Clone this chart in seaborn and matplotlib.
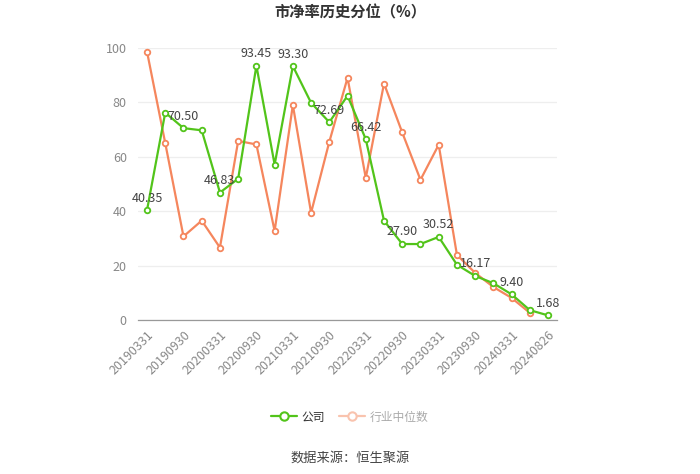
import pandas as pd
import matplotlib.pyplot as plt
import seaborn as sns
from matplotlib.lines import Line2D

dates = ['20190331', '20190630', '20190930', '20191231', '20200331', '20200630',
         '20200930', '20201231', '20210331', '20210630', '20210930', '20211231',
         '20220331', '20220630', '20220930', '20221231', '20230331', '20230630',
         '20230930', '20231231', '20240331', '20240630', '20240826']
company = [40.35, 76.2, 70.50, 69.7, 46.83, 51.9, 93.45, 57.1, 93.30, 79.8, 72.69, 82.4,
           66.42, 36.5, 27.90, 27.9, 30.52, 20.3, 16.17, 13.5, 9.40, 3.6, 1.68]
industry = [98.6, 65.0, 30.7, 36.5, 26.6, 65.8, 64.5, 32.7, 79.0, 39.4, 65.5, 89.0,
            52.2, 86.9, 68.9, 51.5, 64.4, 23.9, 17.3, 12.1, 8.1, 2.6, None]
label_idx = [0, 2, 4, 6, 8, 10, 12, 14, 16, 18, 20, 22]

green = '#52c41a'
orange = '#f5865d'

df = pd.DataFrame({'idx': range(len(dates)), 'date': dates,
                   'company': company, 'industry': industry})

sns.set_style('white')
plt.rcParams['font.family'] = ['Noto Sans CJK SC', 'DejaVu Sans']

fig = plt.figure(figsize=(7, 4.74), dpi=100)
ax = fig.add_axes([0.197, 0.325, 0.599, 0.574])

sns.lineplot(data=df, x='idx', y='industry', ax=ax, color=orange, linewidth=1.6,
             marker='o', markersize=4, markerfacecolor='white',
             markeredgecolor=orange, markeredgewidth=1.3, zorder=3)
sns.lineplot(data=df, x='idx', y='company', ax=ax, color=green, linewidth=1.6,
             marker='o', markersize=4, markerfacecolor='white',
             markeredgecolor=green, markeredgewidth=1.3, zorder=4)

for i in label_idx:
    ax.annotate(f'{company[i]:.2f}', (i, company[i]), xytext=(0, 4),
                textcoords='offset points', ha='center', va='bottom',
                fontsize=9, color='#444444', zorder=5)

ax.set_xlim(-0.5, len(dates) - 0.5)
ax.set_ylim(0, 100)
ax.set_yticks([0, 20, 40, 60, 80, 100])
ax.set_xticks(label_idx)
ax.set_xticklabels([dates[i] for i in label_idx], rotation=45, ha='right',
                   rotation_mode='anchor')
ax.tick_params(axis='x', colors='#999999', labelsize=9, length=4, width=0.8,
               direction='out', pad=2)
ax.tick_params(axis='x', labelcolor='#888888')
ax.tick_params(axis='y', labelcolor='#888888', labelsize=9, length=0, pad=8)
ax.grid(axis='y', color='#eeeeee', linewidth=0.9)
ax.set_axisbelow(True)
for s in ['top', 'right', 'left']:
    ax.spines[s].set_visible(False)
ax.spines['bottom'].set_color('#999999')
ax.spines['bottom'].set_linewidth(0.9)
ax.set_xlabel('')
ax.set_ylabel('')

fig.text(0.5, 0.974, '市净率历史分位（%）', ha='center', va='center',
         fontsize=11, fontweight='bold', color='#333333')

handles = [Line2D([], [], color=green, linewidth=1.6, marker='o', markersize=6,
                  markerfacecolor='white', markeredgecolor=green, markeredgewidth=1.5),
           Line2D([], [], color='#f9c3ae', linewidth=1.6, marker='o', markersize=6,
                  markerfacecolor='white', markeredgecolor='#f9c3ae', markeredgewidth=1.5)]
leg = fig.legend(handles, ['公司', '行业中位数'], loc='center', bbox_to_anchor=(0.5, 0.12),
                 ncol=2, frameon=False, fontsize=8.5, handlelength=2.2,
                 columnspacing=1.2, handletextpad=0.4)
leg.get_texts()[0].set_color('#333333')
leg.get_texts()[1].set_color('#aaaaaa')

fig.text(0.5, 0.033, '数据来源：恒生聚源', ha='center', va='center',
         fontsize=9.5, color='#444444')

fig.savefig('out.png', dpi=100)
